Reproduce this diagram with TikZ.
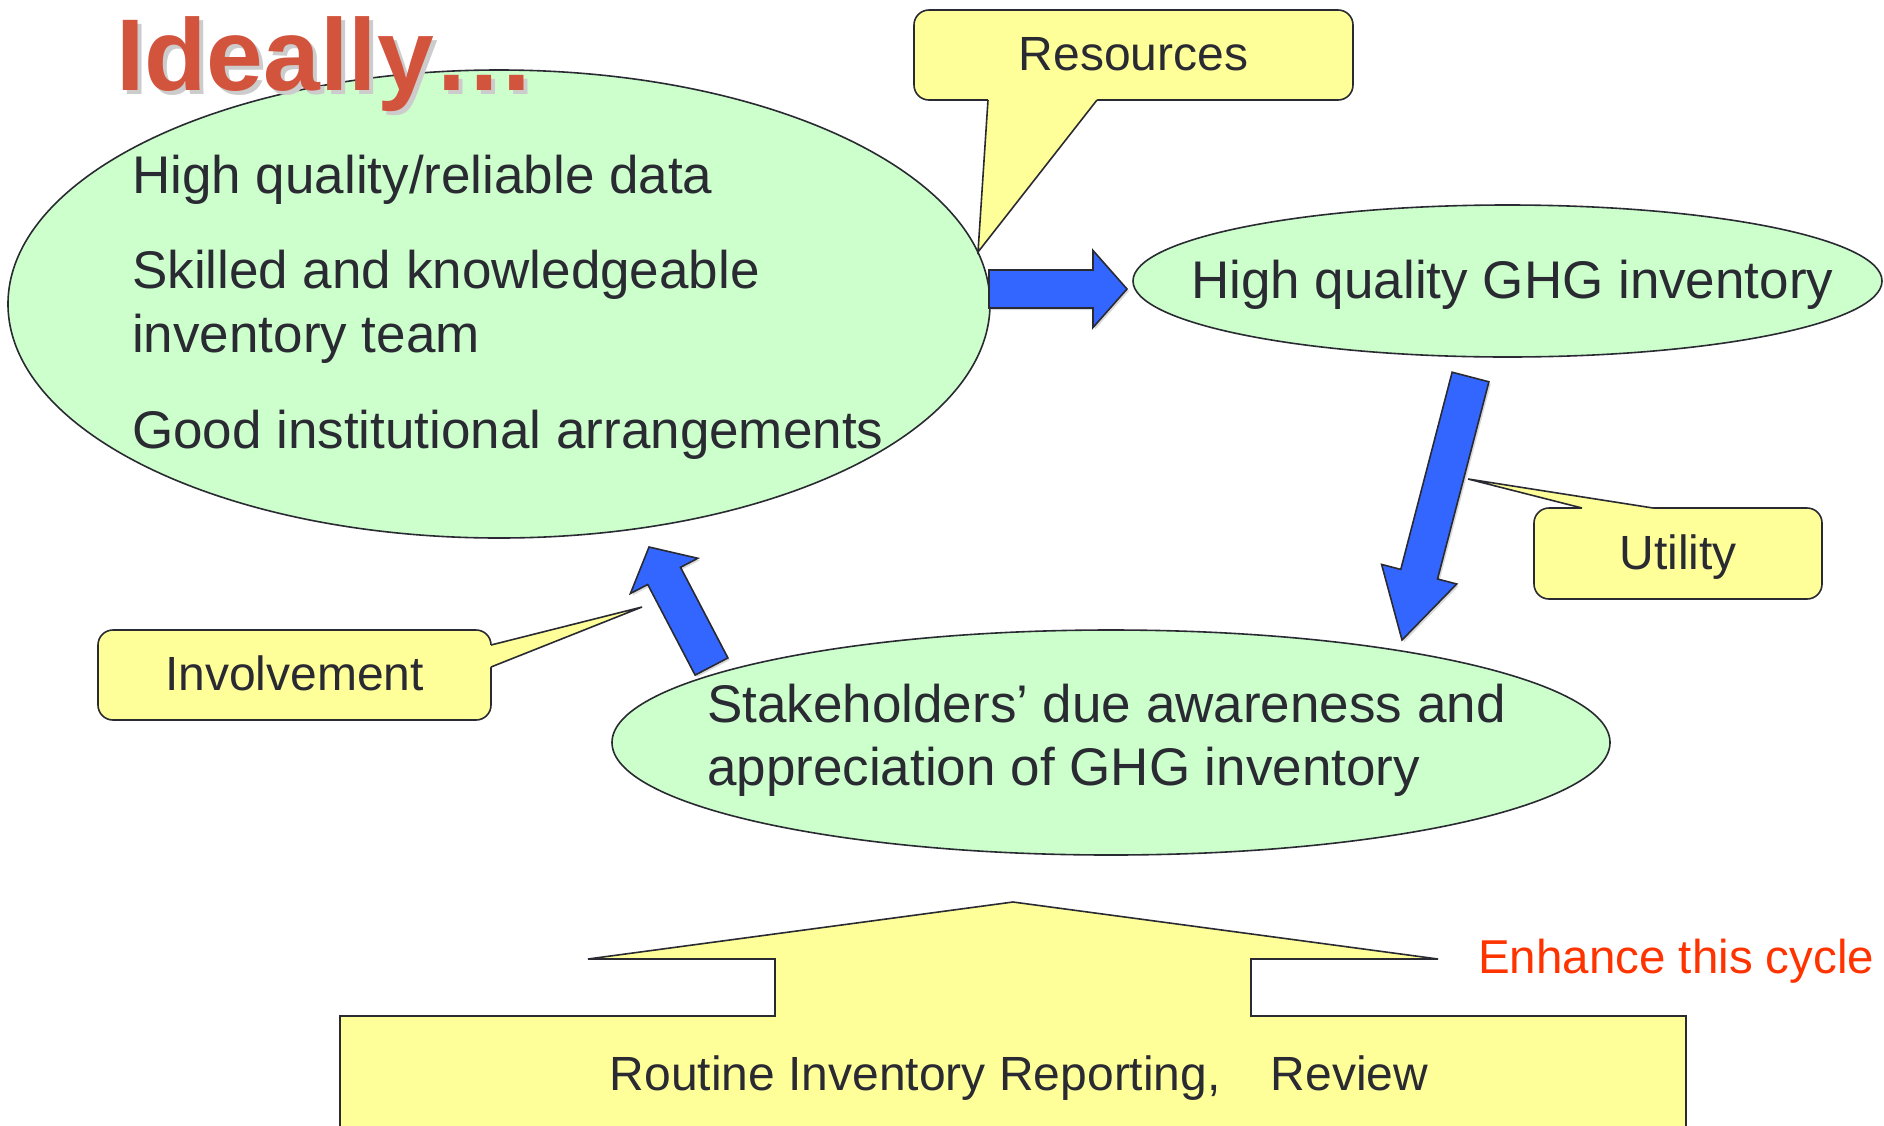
\documentclass[tikz,border=0pt]{standalone}
\usepackage{fontspec}
\setmainfont{Liberation Sans}
\usetikzlibrary{positioning, calc, shapes.geometric, shadows}

\definecolor{bubblegreen}{RGB}{204,255,204}
\definecolor{noteyellow}{RGB}{255,255,153}
\definecolor{flowblue}{RGB}{51,102,255}
\definecolor{inkgray}{RGB}{42,42,50}
\definecolor{titlered}{RGB}{211,84,61}
\definecolor{alertred}{RGB}{255,51,0}

% block arrow: #1 tail, #2 tip, #3 half shaft, #4 half head, #5 head length
\newcommand{\blockarrow}[5]{%
  \coordinate (ba-h) at ($(#2)!#5!(#1)$);
  \draw[flow] ($(#1)!#3!90:(#2)$) -- ($(ba-h)!#3!90:(#2)$) -- ($(ba-h)!#4!90:(#2)$)
    -- (#2) -- ($(ba-h)!#4!-90:(#2)$) -- ($(ba-h)!#3!-90:(#2)$)
    -- ($(#1)!#3!-90:(#2)$) -- cycle;}

% title text with a soft grey shadow behind it
\newcommand{\shadowtitle}[1]{%
  \makebox[0pt][l]{\hspace{4pt}\raisebox{-4pt}{\textcolor{black!20}{#1}}}#1}

\begin{document}
\begin{tikzpicture}[
  x=1pt, y=-1pt,
  bubble/.style={ellipse, draw=inkgray, line width=1.6pt, fill=bubblegreen, inner sep=0pt},
  txt/.style={inner sep=0pt, anchor=base west, text=inkgray,
              font=\fontsize{53}{64}\selectfont},
  note/.style={rectangle, rounded corners=15pt, draw=inkgray, line width=1.6pt,
               fill=noteyellow, inner sep=0pt, text=inkgray,
               font=\fontsize{48}{58}\selectfont, text height=31pt, text depth=0pt},
  flow/.style={draw=inkgray, line width=1.6pt, fill=flowblue,
               drop shadow={shadow xshift=2pt, shadow yshift=-2pt, opacity=0.3}},
  title/.style={inner sep=0pt, anchor=base west, text=titlered,
                font=\fontsize{102}{120}\selectfont\bfseries}
]
  \useasboundingbox (0,0) rectangle (1884,1125);
  \clip (0,0) rectangle (1884,1125);

  %=========================================================
  % 1. Big ellipse with the prerequisites
  %=========================================================
  \node[bubble, minimum width=982pt, minimum height=468pt] (needs) at (499,304) {};
  \node[txt] (data) at (132,193) {High quality/reliable data};
  \node[txt, below=95pt of data.base west, anchor=base west] (skill)
    {Skilled and knowledgeable};
  \node[txt, below=64pt of skill.base west, anchor=base west] (team) {inventory team};
  \node[txt, below=96pt of team.base west, anchor=base west] (inst)
    {Good institutional arrangements};

  \node[title] (ideally) at (116,90) {\shadowtitle{Ideally…}};

  %=========================================================
  % 2. Resources callout and arrow to the inventory
  %=========================================================
  \node[note, minimum width=439pt, minimum height=90pt] (res) at (1133.5,55) {Resources};
  \fill[noteyellow] (988,96) -- (988,100) -- (978,252) -- (1097,100) -- (1097,96) -- cycle;
  \draw[inkgray, line width=1.6pt] (988,100) -- (978,252) -- (1097,100);

  \coordinate (a1 tail) at (989,289);
  \coordinate (a1 tip) at (1127,289);
  \blockarrow{a1 tail}{a1 tip}{19pt}{38.5pt}{34pt}

  \node[bubble, minimum width=749pt, minimum height=152pt] (ghginv) at (1507.5,281) {};
  \node[txt] (ghg) at (1191,298) {High quality GHG inventory};

  %=========================================================
  % 3. Stakeholders ellipse, utility and involvement
  %=========================================================
  \node[bubble, minimum width=998pt, minimum height=225pt] (stake) at (1111,742.5) {};
  \node[txt] (aware) at (707,722) {Stakeholders’ due awareness and};
  \node[txt, below=63pt of aware.base west, anchor=base west] (apprec)
    {appreciation of GHG inventory};

  \node[note, minimum width=288pt, minimum height=91pt] (util) at (1678,553.5) {Utility};
  \fill[noteyellow] (1582,512) -- (1582,508) -- (1468,479) -- (1653,508) -- (1653,512) -- cycle;
  \draw[inkgray, line width=1.6pt] (1582,508) -- (1468,479) -- (1653,508);

  \coordinate (a2 tail) at (1470.5,377);
  \coordinate (a2 tip) at (1402,640);
  \blockarrow{a2 tail}{a2 tip}{19pt}{38.8pt}{68pt}

  \node[note, minimum width=393pt, minimum height=90pt] (inv) at (294.5,675) {Involvement};
  \fill[noteyellow] (487,645) -- (491,645) -- (642,607) -- (491,667) -- (487,667) -- cycle;
  \draw[inkgray, line width=1.6pt] (491,645) -- (642,607) -- (491,667);

  \coordinate (a3 tail) at (711.5,666.5);
  \coordinate (a3 tip) at (649,547);
  \blockarrow{a3 tail}{a3 tip}{18.5pt}{38pt}{32.6pt}

  %=========================================================
  % 4. Base arrow: routine reporting
  %=========================================================
  \draw[fill=noteyellow, draw=inkgray, line width=1.6pt]
    (340,1135) -- (340,1016) -- (775,1016) -- (775,959) -- (588,959) -- (1013,902)
    -- (1438,959) -- (1251,959) -- (1251,1016) -- (1686,1016) -- (1686,1135);
  \node[txt, anchor=base, font=\fontsize{48}{58}\selectfont] (routine) at (1019,1090)
    {Routine Inventory Reporting,\hspace{50pt}Review};
  \node[txt, text=alertred, font=\fontsize{47.5}{56}\selectfont] (enhance) at (1478,973)
    {Enhance this cycle};

\end{tikzpicture}
\end{document}
